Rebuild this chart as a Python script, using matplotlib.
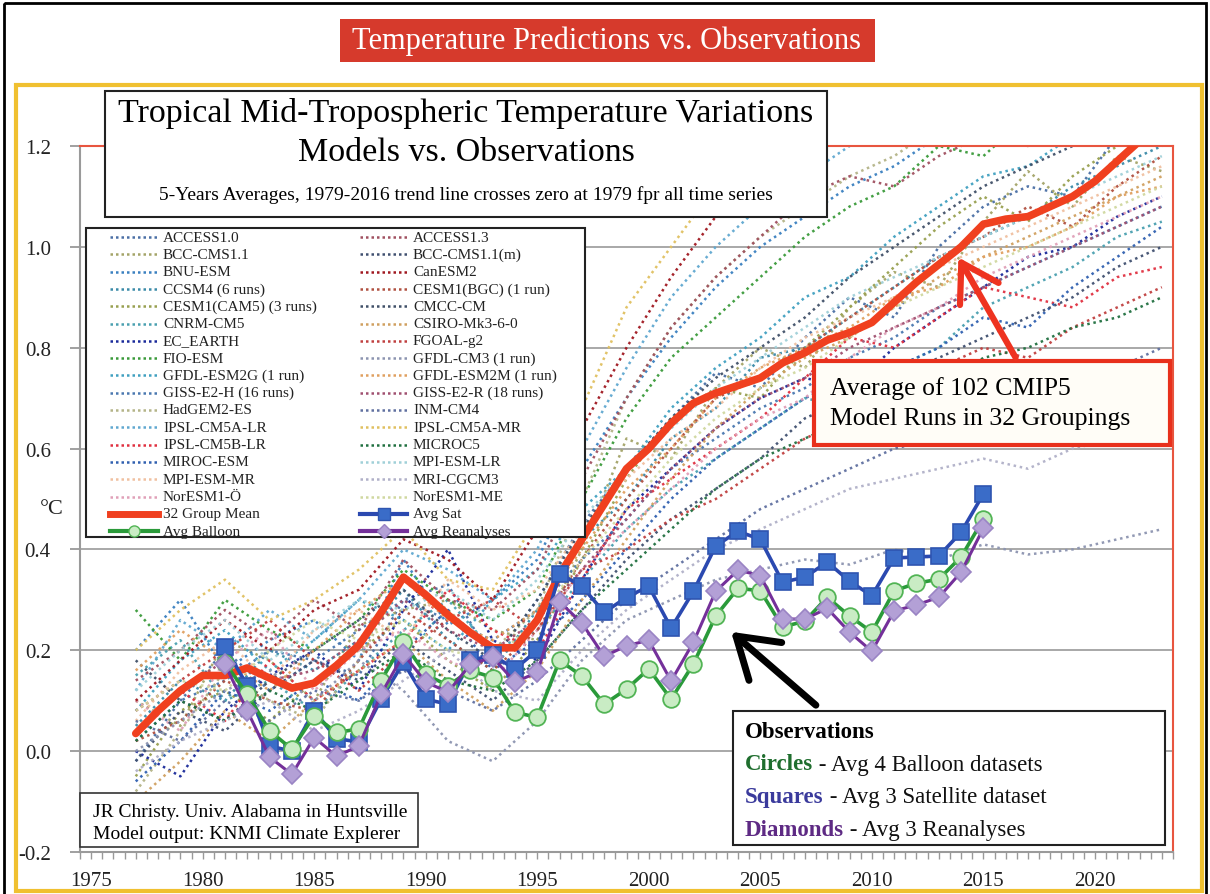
import matplotlib
matplotlib.use("Agg")
import matplotlib.pyplot as plt
from matplotlib.patches import Rectangle, FancyArrowPatch
from matplotlib.lines import Line2D
from matplotlib.ticker import MultipleLocator

plt.rcParams['font.family'] = ['Liberation Serif', 'DejaVu Serif']

# ---- observations (annual points, 1981-2015) ----
obs_years = list(range(1981, 2016))
avg_sat = [0.206, 0.13, 0.01, 0.0, 0.08, 0.025, 0.018, 0.103, 0.176, 0.103, 0.093, 0.18, 0.19, 0.163, 0.2,
           0.352, 0.327, 0.275, 0.305, 0.327, 0.244, 0.317, 0.407, 0.436, 0.42, 0.335, 0.345, 0.375, 0.337,
           0.308, 0.383, 0.385, 0.387, 0.434, 0.51]
avg_balloon = [0.175, 0.113, 0.04, 0.004, 0.07, 0.037, 0.044, 0.14, 0.216, 0.152, 0.13, 0.16, 0.146, 0.077, 0.067,
               0.18, 0.149, 0.093, 0.123, 0.163, 0.103, 0.173, 0.268, 0.323, 0.318, 0.246, 0.258, 0.305, 0.268,
               0.236, 0.318, 0.333, 0.341, 0.385, 0.46]
avg_reanalyses = [0.172, 0.08, -0.012, -0.046, 0.027, -0.01, 0.01, 0.113, 0.192, 0.137, 0.117, 0.172, 0.186, 0.137, 0.156,
                  0.296, 0.254, 0.188, 0.209, 0.22, 0.139, 0.216, 0.317, 0.359, 0.348, 0.262, 0.262, 0.283, 0.236,
                  0.198, 0.278, 0.29, 0.305, 0.355, 0.442]

# ---- 32 group mean (1977-2022) ----
mean_years = list(range(1977, 2023))
group_mean = [0.035, 0.08, 0.12, 0.15, 0.15, 0.165, 0.145, 0.125, 0.135, 0.17, 0.21, 0.275, 0.345, 0.31, 0.27,
              0.235, 0.205, 0.205, 0.26, 0.35, 0.42, 0.49, 0.56, 0.60, 0.65, 0.69, 0.71, 0.725, 0.74, 0.77,
              0.79, 0.815, 0.83, 0.85, 0.89, 0.93, 0.965, 1.0, 1.045, 1.055, 1.06, 1.08, 1.10, 1.13, 1.17, 1.21]

# ---- individual model groupings (every 2nd year, 1977-2023) ----
model_years = list(range(1977, 2024, 2))
access1_0 = [-0.02, 0.10, 0.20, 0.12, 0.18, 0.15, 0.30, 0.33, 0.18, 0.30, 0.45, 0.56, 0.66, 0.75, 0.72, 0.82, 0.90, 0.86, 1.00, 1.08, 1.12, 1.10, 1.22, 1.28]
bcc_csm11 = [0.10, 0.05, 0.22, 0.18, 0.10, 0.25, 0.28, 0.30, 0.24, 0.22, 0.40, 0.62, 0.58, 0.72, 0.80, 0.76, 0.88, 0.95, 0.92, 1.05, 1.15, 1.08, 1.18, 1.15]
bnu_esm = [0.20, 0.30, 0.16, 0.22, 0.26, 0.18, 0.38, 0.25, 0.30, 0.38, 0.56, 0.70, 0.82, 0.92, 1.00, 1.06, 1.12, 1.16, 1.22, 1.28, 1.30, 1.35, 1.38, 1.42]
ccsm4 = [0.05, 0.14, 0.10, 0.20, 0.16, 0.22, 0.32, 0.22, 0.16, 0.28, 0.42, 0.50, 0.62, 0.68, 0.78, 0.80, 0.86, 0.92, 0.98, 1.02, 1.06, 1.12, 1.16, 1.20]
cesm1_cam5 = [-0.05, 0.08, 0.12, 0.06, 0.14, 0.20, 0.26, 0.18, 0.12, 0.22, 0.38, 0.54, 0.66, 0.72, 0.70, 0.80, 0.88, 0.96, 1.04, 1.10, 1.05, 1.14, 1.20, 1.26]
cnrm_cm5 = [0.15, 0.22, 0.10, 0.14, 0.08, 0.16, 0.24, 0.30, 0.20, 0.24, 0.34, 0.44, 0.52, 0.58, 0.64, 0.70, 0.68, 0.76, 0.80, 0.88, 0.92, 0.96, 1.02, 1.05]
ec_earth = [0.00, -0.05, 0.08, 0.15, 0.20, 0.12, 0.28, 0.40, 0.22, 0.18, 0.34, 0.48, 0.56, 0.64, 0.70, 0.74, 0.72, 0.80, 0.86, 0.92, 0.98, 1.00, 1.06, 1.10]
fio_esm = [0.28, 0.18, 0.30, 0.24, 0.20, 0.26, 0.36, 0.30, 0.26, 0.32, 0.50, 0.66, 0.78, 0.86, 0.94, 1.02, 1.08, 1.12, 1.20, 1.18, 1.26, 1.30, 1.34, 1.38]
gfdl_esm2g = [0.08, 0.18, 0.24, 0.16, 0.22, 0.30, 0.26, 0.20, 0.30, 0.36, 0.48, 0.56, 0.68, 0.76, 0.82, 0.90, 0.94, 1.02, 1.08, 1.14, 1.16, 1.22, 1.26, 1.30]
giss_e2_h = [0.02, 0.10, 0.14, 0.20, 0.18, 0.24, 0.30, 0.26, 0.22, 0.28, 0.38, 0.46, 0.56, 0.62, 0.68, 0.72, 0.78, 0.82, 0.88, 0.92, 0.96, 1.00, 1.04, 1.08]
hadgem2_es = [-0.08, 0.04, 0.16, 0.10, 0.06, 0.18, 0.34, 0.28, 0.20, 0.28, 0.50, 0.70, 0.84, 0.94, 1.02, 1.08, 1.14, 1.18, 1.24, 1.30, 1.34, 1.40, 1.45, 1.50]
ipsl_cm5a_lr = [0.12, 0.26, 0.20, 0.28, 0.22, 0.30, 0.40, 0.36, 0.30, 0.40, 0.60, 0.76, 0.90, 1.00, 1.08, 1.14, 1.20, 1.26, 1.30, 1.36, 1.40, 1.44, 1.48, 1.52]
ipsl_cm5b_lr = [0.04, 0.12, 0.06, 0.18, 0.10, 0.16, 0.22, 0.32, 0.24, 0.20, 0.34, 0.48, 0.54, 0.60, 0.66, 0.74, 0.82, 0.80, 0.86, 0.92, 0.90, 0.88, 0.94, 0.96]
miroc_esm = [-0.06, 0.02, 0.12, 0.08, 0.14, 0.10, 0.20, 0.28, 0.16, 0.22, 0.30, 0.40, 0.50, 0.58, 0.64, 0.70, 0.74, 0.76, 0.80, 0.86, 0.84, 0.92, 0.98, 1.04]
mpi_esm_mr = [0.06, 0.16, 0.22, 0.14, 0.24, 0.28, 0.22, 0.34, 0.28, 0.32, 0.44, 0.54, 0.62, 0.68, 0.76, 0.82, 0.86, 0.90, 0.96, 1.00, 1.04, 1.08, 1.12, 1.16]
noresm1_o = [0.10, 0.04, 0.18, 0.24, 0.12, 0.20, 0.24, 0.18, 0.14, 0.24, 0.36, 0.44, 0.52, 0.60, 0.66, 0.70, 0.78, 0.84, 0.88, 0.94, 0.98, 1.02, 1.06, 1.10]
access1_3 = [0.14, 0.20, 0.28, 0.22, 0.30, 0.24, 0.38, 0.30, 0.28, 0.36, 0.54, 0.70, 0.84, 0.94, 1.02, 1.10, 1.14, 1.12, 1.18, 1.22, 1.20, 1.26, 1.30, 1.36]
bcc_csm11m = [-0.02, 0.08, 0.04, 0.12, 0.18, 0.14, 0.22, 0.16, 0.10, 0.18, 0.28, 0.38, 0.46, 0.52, 0.58, 0.66, 0.70, 0.74, 0.78, 0.82, 0.86, 0.90, 0.96, 1.00]
canesm2 = [0.10, 0.18, 0.26, 0.20, 0.28, 0.32, 0.42, 0.38, 0.30, 0.44, 0.64, 0.80, 0.94, 1.06, 1.14, 1.18, 1.24, 1.30, 1.34, 1.40, 1.44, 1.50, 1.54, 1.58]
cesm1_bgc = [0.02, 0.06, 0.14, 0.10, 0.08, 0.18, 0.28, 0.22, 0.16, 0.24, 0.38, 0.50, 0.60, 0.70, 0.74, 0.80, 0.86, 0.92, 0.98, 1.02, 1.08, 1.04, 1.12, 1.18]
cmcc_cm = [0.18, 0.10, 0.06, 0.14, 0.20, 0.26, 0.32, 0.24, 0.18, 0.30, 0.44, 0.56, 0.66, 0.74, 0.80, 0.86, 0.94, 1.00, 1.06, 1.12, 1.16, 1.20, 1.24, 1.28]
csiro_mk36 = [-0.10, -0.02, 0.08, 0.02, 0.10, 0.16, 0.22, 0.14, 0.08, 0.16, 0.30, 0.42, 0.54, 0.64, 0.72, 0.78, 0.82, 0.88, 0.94, 0.98, 1.02, 1.06, 1.10, 1.14]
fgoals_g2 = [0.08, 0.14, 0.20, 0.26, 0.18, 0.12, 0.20, 0.26, 0.30, 0.24, 0.36, 0.40, 0.46, 0.50, 0.56, 0.62, 0.66, 0.72, 0.76, 0.80, 0.78, 0.84, 0.88, 0.92]
gfdl_cm3 = [0.00, 0.06, 0.12, 0.16, 0.10, 0.18, 0.12, 0.02, -0.02, 0.06, 0.18, 0.26, 0.30, 0.34, 0.36, 0.38, 0.37, 0.40, 0.38, 0.41, 0.39, 0.40, 0.42, 0.44]
gfdl_esm2m = [0.16, 0.24, 0.18, 0.12, 0.20, 0.28, 0.34, 0.26, 0.22, 0.28, 0.40, 0.52, 0.60, 0.70, 0.76, 0.80, 0.84, 0.90, 0.92, 0.98, 1.00, 1.04, 1.10, 1.12]
giss_e2_r = [0.04, 0.12, 0.18, 0.14, 0.16, 0.22, 0.30, 0.24, 0.20, 0.26, 0.36, 0.46, 0.56, 0.64, 0.70, 0.74, 0.80, 0.84, 0.88, 0.92, 0.96, 1.00, 1.04, 1.08]
inm_cm4 = [0.06, 0.02, 0.10, 0.06, 0.12, 0.10, 0.16, 0.12, 0.08, 0.14, 0.22, 0.30, 0.36, 0.42, 0.48, 0.52, 0.56, 0.60, 0.62, 0.66, 0.70, 0.72, 0.76, 0.80]
ipsl_cm5a_mr = [0.20, 0.28, 0.34, 0.26, 0.30, 0.36, 0.44, 0.34, 0.32, 0.46, 0.68, 0.88, 1.00, 1.12, 1.22, 1.26, 1.30, 1.34, 1.38, 1.42, 1.46, 1.50, 1.56, 1.60]
miroc5 = [0.02, 0.10, 0.06, 0.12, 0.08, 0.14, 0.20, 0.14, 0.12, 0.18, 0.28, 0.36, 0.44, 0.52, 0.58, 0.62, 0.66, 0.70, 0.72, 0.78, 0.80, 0.84, 0.86, 0.90]
mpi_esm_lr = [0.12, 0.20, 0.26, 0.18, 0.24, 0.30, 0.28, 0.32, 0.26, 0.34, 0.46, 0.56, 0.64, 0.72, 0.78, 0.84, 0.90, 0.94, 0.98, 1.02, 1.06, 1.10, 1.14, 1.18]
mri_cgcm3 = [-0.04, 0.02, 0.06, 0.10, 0.04, 0.08, 0.14, 0.20, 0.12, 0.10, 0.20, 0.28, 0.34, 0.40, 0.44, 0.48, 0.52, 0.54, 0.56, 0.58, 0.56, 0.60, 0.62, 0.64]
noresm1_me = [0.08, 0.14, 0.12, 0.20, 0.26, 0.22, 0.26, 0.20, 0.18, 0.26, 0.38, 0.48, 0.58, 0.66, 0.72, 0.76, 0.82, 0.88, 0.92, 0.96, 1.00, 1.04, 1.08, 1.12]

# legend column 1 then column 2
model_names = ["ACCESS1.0", "BCC-CMS1.1", "BNU-ESM", "CCSM4 (6 runs)", "CESM1(CAM5) (3 runs)", "CNRM-CM5",
               "EC_EARTH", "FIO-ESM", "GFDL-ESM2G (1 run)", "GISS-E2-H (16 runs)", "HadGEM2-ES", "IPSL-CM5A-LR",
               "IPSL-CM5B-LR", "MIROC-ESM", "MPI-ESM-MR", "NorESM1-Ö",
               "ACCESS1.3", "BCC-CMS1.1(m)", "CanESM2", "CESM1(BGC) (1 run)", "CMCC-CM", "CSIRO-Mk3-6-0",
               "FGOAL-g2", "GFDL-CM3 (1 run)", "GFDL-ESM2M (1 run)", "GISS-E2-R (18 runs)", "INM-CM4",
               "IPSL-CM5A-MR", "MICROC5", "MPI-ESM-LR", "MRI-CGCM3", "NorESM1-ME"]
model_values = [access1_0, bcc_csm11, bnu_esm, ccsm4, cesm1_cam5, cnrm_cm5, ec_earth, fio_esm, gfdl_esm2g,
                giss_e2_h, hadgem2_es, ipsl_cm5a_lr, ipsl_cm5b_lr, miroc_esm, mpi_esm_mr, noresm1_o,
                access1_3, bcc_csm11m, canesm2, cesm1_bgc, cmcc_cm, csiro_mk36, fgoals_g2, gfdl_cm3,
                gfdl_esm2m, giss_e2_r, inm_cm4, ipsl_cm5a_mr, miroc5, mpi_esm_lr, mri_cgcm3, noresm1_me]
model_colors = ["#4a6fa5", "#a4a468", "#3a80c0", "#3a8aa8", "#98a050", "#4aa0b0", "#1a2a9a", "#3a9a3a",
                "#40a0c0", "#4a78b0", "#b4b488", "#60a8d0", "#e03040", "#3060b0", "#f0c0a0", "#e0a0b8",
                "#a05060", "#405070", "#a01820", "#b05040", "#405068", "#d0a060", "#c04040", "#8c94b0",
                "#e0a060", "#a05070", "#6070a0", "#e0c060", "#207040", "#a0d0d8", "#b0b0c8", "#d0d8a0"]

ytick_vals = [-0.2, 0.0, 0.2, 0.4, 0.6, 0.8, 1.0, 1.2]
xtick_vals = [1975, 1980, 1985, 1990, 1995, 2000, 2005, 2010, 2015, 2020]

RED = "#f0401f"
SAT_C, BAL_C, REA_C = "#2b49b0", "#2a9a3a", "#74309a"
W, H = 1210, 895

fig = plt.figure(figsize=(W / 100, H / 100), dpi=100)
fig.patch.set_facecolor("white")

# main plotting area (pixel box 80..1173 x 147..853)
ax = fig.add_axes([80 / W, 1 - 853 / H, (1173 - 80) / W, (853 - 147) / H])
ax.set_xlim(1974.5, 2023.5)
ax.set_ylim(-0.2, 1.2)
ax.set_yticks(ytick_vals)
ax.set_yticklabels([f"{v:.1f}" for v in ytick_vals])
ax.set_xticks(xtick_vals)
ax.xaxis.set_minor_locator(MultipleLocator(0.5))
ax.tick_params(axis="y", length=7, width=1.3, color="#999999", labelsize=15, pad=14, labelcolor="#222222")
ax.tick_params(axis="x", which="both", length=5, width=1.0, color="#999999", labelsize=15, pad=9,
               labelcolor="#222222")
ax.yaxis.grid(True, color="#a8a8a8", lw=1.4)
ax.set_axisbelow(True)
for side in ("left", "bottom"):
    ax.spines[side].set_color("#9a9a9a")
    ax.spines[side].set_linewidth(1.5)
for side in ("top", "right"):
    ax.spines[side].set_color("#e8553f")
    ax.spines[side].set_linewidth(1.5)

for vals, col in zip(model_values, model_colors):
    ax.plot(model_years, vals, color=col, lw=1.8, ls=(0, (1, 1.5)), alpha=0.95, zorder=2)

ax.plot(mean_years, group_mean, color=RED, lw=5.5, solid_capstyle="round", zorder=4)
ax.plot(obs_years, avg_sat, color=SAT_C, lw=2.6, marker="s", ms=11, mfc="#3a6cc8", mec="#2f55b0",
        mew=1.2, zorder=5)
ax.plot(obs_years, avg_balloon, color=BAL_C, lw=2.6, marker="o", ms=12, mfc="#c9ecc4", mec="#52b455",
        mew=1.3, zorder=6)
ax.plot(obs_years, avg_reanalyses, color=REA_C, lw=2.2, marker="D", ms=10.5, mfc="#b3a0d6", mec="#9a84c4",
        mew=1.2, zorder=7)

# ---- decorations in pixel coordinates ----
deco = fig.add_axes([0, 0, 1, 1], zorder=10)
deco.set_xlim(0, W)
deco.set_ylim(H, 0)
deco.axis("off")
deco.patch.set_alpha(0)

deco.add_patch(Rectangle((4, 4), 1202, 900, fill=False, ec="black", lw=2))
deco.add_patch(Rectangle((16, 86), 1186, 806, fill=False, ec="#f0c030", lw=3))

deco.add_patch(Rectangle((340, 20), 535, 43, fc="#d63a2c", ec="none"))
deco.text(607, 41, "Temperature Predictions vs. Observations", color="white", fontsize=22,
          ha="center", va="center")

deco.text(52, 510, "°C", fontsize=16, ha="center", va="center", color="#222222")

# chart title box
deco.add_patch(Rectangle((105, 92), 722, 126, fc="white", ec="#222222", lw=1.5))
deco.text(466, 113, "Tropical Mid-Tropospheric Temperature Variations", fontsize=24.5, ha="center", va="center")
deco.text(466, 153, "Models vs. Observations", fontsize=24.5, ha="center", va="center")
deco.text(466, 195, "5-Years Averages, 1979-2016 trend line crosses zero at 1979 fpr all time series",
          fontsize=14, ha="center", va="center")

# legend box
deco.add_patch(Rectangle((86, 229), 499, 309, fc="white", ec="#222222", lw=1.5))
row0, pitch = 238, 17.3
col_x = [(110, 158, 163), (360, 407, 413)]
for i, (name, col) in enumerate(zip(model_names, model_colors)):
    c, r = divmod(i, 16)
    x0, x1, xt = col_x[c]
    y = row0 + r * pitch
    deco.add_line(Line2D([x0, x1], [y, y], color=col, lw=1.8, ls=(0, (1, 1.2))))
    deco.text(xt, y, name, fontsize=11, va="center", color="#222222")
extra = [(0, 16, "32 Group Mean", dict(color=RED, lw=5)),
         (0, 17, "Avg Balloon", dict(color=BAL_C, lw=3, marker="o", ms=8, mfc="#c9ecc4", mec="#52b455",
                                     markevery=[1])),
         (1, 16, "Avg Sat", dict(color=SAT_C, lw=3, marker="s", ms=8, mfc="#3a6cc8", mec="#2f55b0",
                                 markevery=[1])),
         (1, 17, "Avg Reanalyses", dict(color=REA_C, lw=3, marker="D", ms=7, mfc="#b3a0d6", mec="#9a84c4",
                                        markevery=[1]))]
for c, r, name, style in extra:
    x0, x1, xt = col_x[c]
    y = row0 + r * pitch
    deco.add_line(Line2D([x0, (x0 + x1) / 2, x1], [y, y, y], **style))
    deco.text(xt, y, name, fontsize=11, va="center", color="#222222")

# model average callout
deco.add_patch(Rectangle((814, 362), 356, 84, fc="#fffdf7", ec="#e8301c", lw=3))
deco.text(830, 389, "Average of 102 CMIP5", fontsize=18.5, va="center")
deco.text(830, 419, "Model Runs in 32 Groupings", fontsize=18.5, va="center")
deco.add_patch(FancyArrowPatch((1017, 361), (957, 256), arrowstyle="->,head_length=1.3,head_width=0.8",
                               mutation_scale=20, color="#ee3320", lw=4.5))

# observations callout
deco.add_patch(FancyArrowPatch((818, 708), (729, 631), arrowstyle="->,head_length=1.4,head_width=0.9",
                               mutation_scale=20, color="black", lw=5))
deco.add_patch(Rectangle((733, 712), 432, 134, fc="white", ec="#222222", lw=1.5))
deco.text(745, 732, "Observations", fontsize=16.5, fontweight="bold", va="center")
obs_rows = [("Circles", "#1f6e2e", " - Avg 4 Balloon datasets"),
            ("Squares", "#3a3a9c", " - Avg 3 Satellite dataset"),
            ("Diamonds", "#5e2a84", " - Avg 3 Reanalyses")]
for i, (word, col, rest) in enumerate(obs_rows):
    t = deco.text(745, 765 + i * 33, word, fontsize=16.5, fontweight="bold", color=col, va="center")
    deco.annotate(rest, xy=(1, 0), xycoords=t, fontsize=16.5, va="bottom", color="#111111")

# credit box
deco.add_patch(Rectangle((80, 794), 338, 54, fc="white", ec="#333333", lw=1.2))
deco.text(93, 813, "JR Christy. Univ. Alabama in Huntsville", fontsize=14, va="center")
deco.text(93, 835, "Model output: KNMI Climate Explerer", fontsize=14, va="center")

fig.savefig("out.png", dpi=100)
